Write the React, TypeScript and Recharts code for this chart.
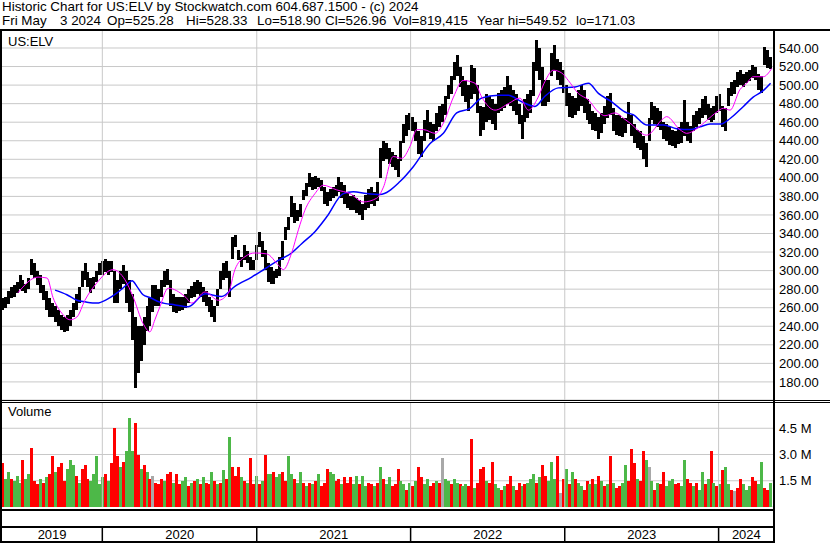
import React from 'react';
import { ComposedChart, Bar, Line, XAxis, YAxis, CartesianGrid, ReferenceLine, Cell } from 'recharts';

// weekly bars, week 0 = May 10 2019, week 260 = May 3 2024
const weekLo = [
  258, 260, 264, 270, 272, 276, 280, 278, 276, 280,
  295, 292, 285, 276, 268, 258, 250, 250, 245, 240,
  236, 234, 235, 240, 250, 258, 265, 282, 290, 282,
  276, 280, 288, 295, 295, 298, 295, 298, 265, 265,
  280, 286, 265, 255, 225, 173, 190, 203, 220, 235,
  240, 255, 262, 262, 272, 282, 285, 262, 255, 254,
  256, 258, 260, 265, 270, 272, 275, 272, 266, 262,
  255, 250, 245, 262, 280, 290, 292, 272, 312, 325,
  311, 304, 311, 308, 301, 301, 311, 325, 315, 301,
  288, 286, 286, 292, 294, 311, 333, 344, 358, 351,
  354, 358, 376, 380, 390, 387, 388, 390, 386, 372,
  370, 375, 378, 380, 385, 378, 372, 368, 365, 365,
  362, 360, 355, 365, 368, 372, 370, 375, 400, 418,
  420, 415, 412, 408, 401, 418, 438, 445, 452, 450,
  440, 426, 423, 440, 448, 442, 440, 450, 455, 460,
  468, 485, 490, 505, 510, 498, 488, 482, 472, 485,
  490, 470, 445, 452, 460, 462, 458, 452, 470, 472,
  475, 480, 478, 472, 468, 458, 442, 460, 465, 470,
  488, 515, 505, 478, 478, 482, 510, 515, 505, 500,
  492, 478, 466, 465, 468, 472, 478, 470, 462, 458,
  452, 450, 442, 448, 458, 465, 468, 450, 446, 445,
  444, 448, 458, 445, 438, 432, 430, 420, 412, 440,
  462, 458, 455, 452, 442, 440, 435, 434, 432, 436,
  438, 445, 440, 438, 450, 455, 458, 465, 468, 462,
  460, 462, 470, 472, 455, 450, 478, 488, 490, 498,
  500, 498, 502, 504, 508, 505, 495, 492, 522, 518,
  517,
];

const weekHi = [
  270, 272, 278, 282, 284, 288, 295, 290, 286, 292,
  313, 308, 300, 295, 285, 278, 270, 265, 262, 258,
  252, 250, 252, 258, 265, 275, 282, 300, 308, 298,
  292, 293, 300, 308, 310, 312, 310, 310, 300, 290,
  300, 306, 300, 290, 275, 250, 240, 240, 250, 262,
  270, 285, 285, 280, 290, 300, 302, 290, 275, 272,
  272, 272, 275, 280, 283, 288, 290, 288, 282, 278,
  272, 268, 262, 280, 300, 308, 310, 300, 336, 338,
  322, 315, 328, 321, 315, 311, 328, 342, 332, 322,
  308, 304, 300, 302, 315, 332, 347, 358, 380, 373,
  365, 372, 387, 394, 405, 401, 402, 400, 398, 390,
  385, 388, 390, 392, 401, 395, 392, 385, 380, 382,
  378, 376, 372, 382, 388, 390, 385, 395, 432, 440,
  438, 432, 428, 425, 420, 440, 458, 468, 470, 466,
  460, 450, 445, 462, 473, 460, 458, 470, 478, 480,
  488, 500, 510, 525, 532, 520, 510, 505, 500, 522,
  518, 500, 478, 476, 490, 488, 485, 480, 492, 495,
  498, 510, 500, 495, 490, 480, 468, 485, 490, 495,
  525, 549, 540, 520, 505, 505, 535, 543, 528, 525,
  516, 500, 492, 488, 486, 495, 500, 495, 485, 480,
  472, 470, 466, 470, 478, 488, 492, 475, 468, 468,
  465, 465, 482, 468, 458, 452, 450, 445, 438, 465,
  482, 478, 475, 472, 460, 458, 455, 452, 450, 455,
  460, 484, 460, 456, 468, 472, 475, 485, 488, 480,
  475, 478, 488, 490, 478, 475, 497, 503, 505, 514,
  516, 512, 514, 516, 522, 520, 512, 510, 541, 538,
  530,
];

// volume in millions, one per week
const weekVol = [
  2.5, 1.6, 2.0, 1.6, 1.5, 1.8, 1.4, 2.7, 1.6, 1.9,
  3.4, 1.5, 1.3, 1.6, 1.4, 1.7, 1.9, 2.9, 2.0, 2.3,
  2.5, 1.5, 2.2, 2.7, 2.4, 1.8, 1.4, 2.2, 2.4, 1.6,
  1.5, 1.9, 2.9, 1.3, 1.7, 1.9, 1.5, 2.5, 4.5, 2.9,
  2.3, 2.6, 3.2, 5.1, 3.2, 4.8, 3.0, 2.2, 2.4, 2.0,
  1.6, 1.8, 1.4, 1.3, 1.6, 1.5, 1.9, 2.0, 1.4, 1.9,
  1.3, 1.5, 1.7, 1.2, 1.4, 1.5, 1.6, 1.3, 1.7, 1.4,
  1.3, 2.0, 1.5, 1.3, 1.4, 2.1, 1.6, 4.0, 2.3, 1.8,
  2.3, 1.7, 1.5, 1.4, 2.8, 1.3, 1.8, 1.3, 1.5, 3.0,
  1.9, 1.9, 2.0, 1.7, 1.9, 2.0, 1.5, 2.9, 1.9, 1.6,
  1.4, 2.0, 1.4, 1.2, 1.4, 1.3, 1.5, 1.9, 1.2, 1.4,
  2.2, 2.0, 1.9, 1.5, 1.6, 1.3, 1.7, 1.4, 1.7, 1.3,
  1.8, 1.3, 1.8, 1.2, 1.4, 1.3, 1.2, 1.4, 2.3, 1.6,
  1.3, 1.7, 1.2, 1.3, 2.2, 1.5, 1.3, 1.0, 1.4, 1.2,
  1.5, 2.3, 1.7, 1.3, 1.6, 1.2, 1.4, 1.5, 1.4, 2.8,
  1.6, 1.5, 1.3, 1.6, 1.4, 1.3, 1.2, 1.3, 1.2, 3.9,
  1.1, 1.4, 2.2, 2.3, 1.5, 1.4, 2.6, 1.3, 1.1, 1.0,
  1.2, 1.3, 1.8, 1.2, 1.0, 1.4, 1.2, 1.3, 1.4, 1.6,
  1.9, 1.4, 1.7, 2.4, 1.8, 1.5, 2.6, 1.6, 2.9, 0.8,
  1.6, 2.2, 1.3, 2.0, 1.6, 1.4, 1.2, 1.0, 1.5, 1.3,
  1.6, 1.3, 1.8, 1.5, 1.2, 1.3, 2.9, 1.4, 1.1, 1.2,
  1.4, 2.4, 1.5, 3.3, 2.5, 1.6, 1.5, 3.2, 2.7, 2.3,
  1.5, 1.0, 1.4, 1.3, 2.0, 1.2, 1.5, 1.6, 1.3, 1.4,
  1.2, 2.7, 1.6, 1.4, 1.2, 1.4, 1.0, 2.0, 1.3, 1.6,
  3.2, 1.4, 1.2, 1.3, 2.1, 2.3, 1.3, 1.0, 0.9, 1.1,
  1.6, 1.3, 1.0, 1.2, 1.7, 1.5, 1.3, 2.6, 1.1, 1.0,
  1.4,
];

// r = down, g = up, x = unchanged
const volTone = [
  'rggrgggrgg', 'rrrgrgrrgr', 'rrgggrgrrr', 'gggggrgrrr', 'grgggrrgrg',
  'rxrrrgrrgr', 'rggrgrgrgr', 'rgrgrgrgrr', 'rgrgrrgrgr', 'ggrggrrggr',
  'ggrgrgrgrr', 'rggrrgrrrg', 'grggrrgrgr', 'ggrrrggrgr', 'grrggrrgrx',
  'ggrggrggrr', 'grrrgrrggr', 'grrgrrgrgg', 'grgrrgggrx', 'rgrgrggrrg',
  'rgrgrgrgrr', 'ggrrrgrrgx', 'grgrrgggrr', 'ggrrgrggrg', 'rgrgrggrxr',
  'rgggrrggrr', 'g',
].join('');

// 50 day average (magenta)
const fastWeek = [
  5.1, 11.9, 15.0, 17.0, 20.0, 22.8, 25.1, 27.8, 31.9, 37.3,
  41.4, 44.1, 47.5, 49.8, 51.5, 53.2, 56.0, 61.7, 64.0, 68.5,
  73.0, 76.4, 78.6, 82.0, 85.4, 89.4, 93.3, 95.0, 97.8, 100.1,
  102.3, 105.7, 108.5, 113.1, 117.6, 122.1, 126.6, 128.9, 132.2, 135.1,
  137.9, 140.2, 142.4, 146.4, 149.2, 152.6, 155.9, 159.9, 162.2, 166.7,
  171.2, 175.1, 178.0, 181.3, 183.6, 186.4, 189.3, 191.5, 194.9, 198.3,
  201.7, 203.9, 207.3, 210.7, 212.4, 218.0, 223.7, 224.8, 229.3, 231.6,
  235.0, 238.4, 241.8, 244.0, 246.3, 249.6, 251.9, 254.1, 257.5, 260.4,
];
const fastAvg = [
  276, 293, 292, 271, 254, 247, 250, 268, 287, 301,
  290, 272, 243, 234, 247, 261, 281, 272, 265, 277,
  268, 276, 301, 315, 319, 318, 306, 301, 319, 344,
  365, 383, 392, 387, 383, 374, 378, 390, 423, 421,
  434, 452, 452, 448, 459, 487, 505, 502, 487, 473,
  480, 486, 473, 487, 504, 516, 513, 505, 491, 484,
  471, 467, 470, 463, 459, 446, 464, 466, 452, 448,
  453, 462, 471, 475, 473, 495, 502, 509, 509, 518,
];

// 200 day average (blue)
const slowWeek = [
  17.7, 21.7, 25.1, 28.5, 31.9, 35.3, 38.7, 42.1, 43.8, 45.4,
  47.5, 49.8, 53.2, 58.3, 62.8, 68.5, 74.1, 78.6, 84.3, 88.8,
  93.3, 97.8, 101.2, 105.7, 109.7, 115.3, 118.7, 123.2, 127.7, 134.5,
  139.0, 144.7, 149.2, 153.7, 158.2, 162.2, 167.8, 171.2, 175.7, 180.2,
  183.6, 188.1, 193.8, 198.3, 201.7, 206.2, 210.7, 213.5, 218.0, 223.7,
  228.2, 232.7, 236.1, 239.5, 242.9, 246.3, 250.8, 254.1, 257.5, 260.0,
];
const slowAvg = [
  279, 274, 268, 266, 265, 269, 276, 285, 289, 283,
  274, 271, 266, 263, 261, 275, 272, 283, 293, 302,
  311, 319, 329, 342, 358, 383, 385, 383, 382, 396,
  412, 437, 448, 470, 475, 486, 489, 489, 482, 477,
  488, 497, 498, 502, 491, 482, 471, 468, 457, 457,
  453, 452, 455, 458, 458, 464, 477, 487, 494, 502,
];

const yearStartWeek = [33.7, 86.0, 138.1, 190.3, 242.4];
const yearLabelWeek = [16.7, 59.9, 112.1, 164.2, 216.4, 251.8];
const yearLabels = ['2019', '2020', '2021', '2022', '2023', '2024'];
const priceTicks = [180, 200, 220, 240, 260, 280, 300, 320, 340, 360, 380, 400, 420, 440, 460, 480, 500, 520, 540];
const volumeTicks = [1.5, 3.0, 4.5];
const quoteFields = ['Fri May', '3 2024', 'Op=525.28', 'Hi=528.33', 'Lo=518.90', 'Cl=526.96', 'Vol=819,415', 'Year hi=549.52', 'lo=171.03'];
const quoteLeft = [2, 60, 107, 186, 257, 325, 393, 477, 576];

const X_DOMAIN = [-0.27, 261.16];
const PRICE_DOMAIN = [160.5, 559.4];
const FONT = '"Liberation Sans", Arial, sans-serif';
const GRID = '#c8c8c8';
const TONE: Record<string, string> = { r: '#ff0000', g: '#4db848', x: '#a8a8a8' };
const STICK = 3;

const barRows = weekLo.map((lo, i) => ({ w: i, range: [lo, weekHi[i]] }));
const avgRows = [
  ...fastWeek.map((w, i) => ({ w, fast: fastAvg[i] })),
  ...slowWeek.map((w, i) => ({ w, slow: slowAvg[i] })),
].sort((a, b) => a.w - b.w);
const volumeRows = weekVol.map((v, i) => ({ w: i, vol: v }));
const yearRows = yearLabelWeek.map((w) => ({ w }));

const Rule = ({ left, top, width, height }: { left: number; top: number; width: number; height: number }) => (
  <div style={{ position: 'absolute', left, top, width, height, background: '#000' }} />
);

// pixel-snapped stick centred on the library's bar position
const Stick = (props: any) => {
  const { x, y, width, height, fill } = props;
  if (!Number.isFinite(x) || !Number.isFinite(y) || !Number.isFinite(height)) return null;
  const left = Math.round(x + width / 2 - STICK / 2);
  const top = Math.round(y);
  const bottom = Math.round(y + height);
  return <rect x={left} y={top} width={STICK} height={Math.max(bottom - top, 1)} fill={fill} shapeRendering="crispEdges" />;
};

const tickStyle = { fill: '#000', fontSize: 13, fontFamily: FONT };

const YearTick = (props: any) => {
  const { x, y, payload } = props;
  if (yearStartWeek.includes(payload.value)) {
    return <line x1={x} x2={x} y1={y} y2={y + 16} stroke="#000" strokeWidth={1.5} />;
  }
  return (
    <text x={x} y={y + 13} textAnchor="middle" fontSize={13} fontFamily={FONT} fill="#000">
      {yearLabels[yearLabelWeek.indexOf(payload.value)]}
    </text>
  );
};

export default function App() {
  return (
    <div
      style={{
        position: 'absolute',
        left: 0,
        top: 0,
        width: 830,
        height: 543,
        background: '#fff',
        fontFamily: FONT,
        fontSize: 13,
        color: '#000',
        overflow: 'hidden',
      }}
    >
      <div style={{ position: 'absolute', left: 2, top: 0, lineHeight: '13px', fontSize: 13.4, whiteSpace: 'pre' }}>
        Historic Chart for US:ELV by Stockwatch.com 604.687.1500 - (c) 2024
      </div>
      {quoteFields.map((t, i) => (
        <div key={t} style={{ position: 'absolute', left: quoteLeft[i], top: 14, lineHeight: '13px', fontSize: 13.4, whiteSpace: 'pre' }}>
          {t}
        </div>
      ))}

      {/* price panel: grid, axis and weekly ranges */}
      <div style={{ position: 'absolute', left: 0, top: 30 }}>
        <ComposedChart width={830} height={370} data={barRows} margin={{ top: 0, right: 0, bottom: 0, left: 2 }}>
          <CartesianGrid stroke={GRID} vertical={false} />
          <XAxis type="number" dataKey="w" domain={X_DOMAIN} allowDataOverflow hide />
          <YAxis
            orientation="right"
            width={56}
            domain={PRICE_DOMAIN}
            allowDataOverflow
            ticks={priceTicks}
            interval={0}
            tickFormatter={(v: number) => v.toFixed(2)}
            tickLine={false}
            axisLine={false}
            tickSize={0}
            tickMargin={5}
            tick={tickStyle}
          />
          {yearStartWeek.map((w) => (
            <ReferenceLine key={w} x={w} stroke={GRID} />
          ))}
          <Bar dataKey="range" fill="#000" barSize={2} shape={Stick} isAnimationActive={false} />
        </ComposedChart>
      </div>

      {/* price panel: moving averages */}
      <div style={{ position: 'absolute', left: 0, top: 30 }}>
        <ComposedChart width={830} height={370} data={avgRows} margin={{ top: 0, right: 56, bottom: 0, left: 2 }}>
          <XAxis type="number" dataKey="w" domain={X_DOMAIN} allowDataOverflow hide />
          <YAxis domain={PRICE_DOMAIN} allowDataOverflow hide />
          <Line dataKey="slow" type="monotone" stroke="#0000ff" strokeWidth={1.5} dot={false} connectNulls isAnimationActive={false} />
          <Line dataKey="fast" type="monotone" stroke="#ff00ff" strokeWidth={1} dot={false} connectNulls isAnimationActive={false} />
        </ComposedChart>
      </div>

      {/* volume panel */}
      <div style={{ position: 'absolute', left: 0, top: 402 }}>
        <ComposedChart width={830} height={105} data={volumeRows} margin={{ top: 0, right: 0, bottom: 0, left: 2 }}>
          <CartesianGrid stroke={GRID} vertical={false} />
          <XAxis type="number" dataKey="w" domain={X_DOMAIN} allowDataOverflow hide />
          <YAxis
            orientation="right"
            width={56}
            domain={[0, 6]}
            allowDataOverflow
            ticks={volumeTicks}
            interval={0}
            tickFormatter={(v: number) => `${v.toFixed(1)} M`}
            tickLine={false}
            axisLine={false}
            tickSize={0}
            tickMargin={5}
            tick={tickStyle}
          />
          {yearStartWeek.map((w) => (
            <ReferenceLine key={w} x={w} stroke={GRID} />
          ))}
          <Bar dataKey="vol" barSize={2} shape={Stick} isAnimationActive={false}>
            {volumeRows.map((r) => (
              <Cell key={r.w} fill={TONE[volTone[r.w]] || TONE.g} />
            ))}
          </Bar>
        </ComposedChart>
      </div>

      {/* year band */}
      <div style={{ position: 'absolute', left: 0, top: 510 }}>
        <ComposedChart width={830} height={33} data={yearRows} margin={{ top: 0, right: 56, bottom: 0, left: 2 }}>
          <XAxis
            type="number"
            dataKey="w"
            domain={X_DOMAIN}
            allowDataOverflow
            ticks={[...yearStartWeek, ...yearLabelWeek]}
            interval={0}
            height={17}
            tickLine={false}
            axisLine={false}
            tickSize={0}
            tickMargin={0}
            tick={YearTick}
          />
          <YAxis hide domain={[0, 1]} />
          {yearStartWeek.map((w) => (
            <ReferenceLine key={w} x={w} stroke="#000" strokeWidth={1.5} />
          ))}
        </ComposedChart>
      </div>

      <div style={{ position: 'absolute', left: 8, top: 34 }}>US:ELV</div>
      <div style={{ position: 'absolute', left: 8, top: 404 }}>Volume</div>

      {/* frame */}
      <Rule left={0} top={29} width={830} height={2} />
      <Rule left={0} top={400} width={830} height={1} />
      <Rule left={0} top={402} width={830} height={1} />
      <Rule left={0} top={509} width={775} height={2} />
      <Rule left={0} top={526} width={775} height={2} />
      <Rule left={0} top={541} width={775} height={2} />
      <Rule left={0} top={29} width={2} height={514} />
      <Rule left={773} top={29} width={2} height={514} />
    </div>
  );
}
